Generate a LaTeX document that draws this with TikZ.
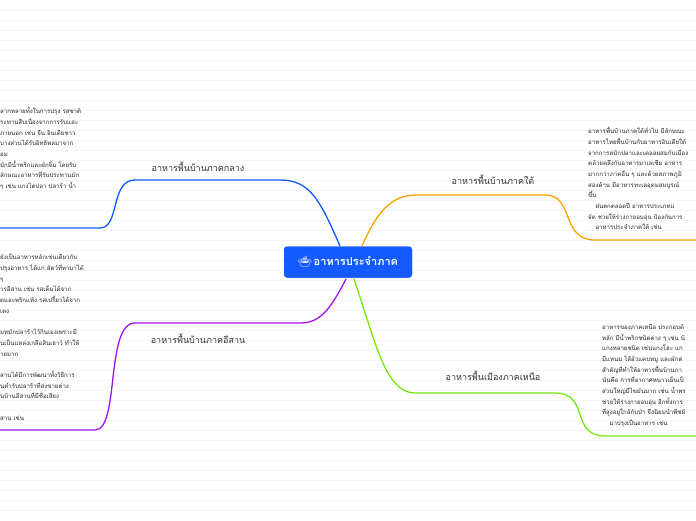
\documentclass[tikz,border=0pt]{standalone}
\usepackage{fontspec}
\setmainfont[Script=Thai]{Loma}
\newfontfamily\emojifont{Noto Emoji}
\usetikzlibrary{positioning}
\definecolor{mapblue}{RGB}{20,90,255}
\definecolor{mapviolet}{RGB}{160,20,240}
\definecolor{maporange}{RGB}{255,160,0}
\definecolor{mapgreen}{RGB}{120,230,20}
\tikzset{
  topic/.style={font=\fontsize{9}{11}\selectfont, text=black!80, inner sep=1pt},
  note/.style={font=\fontsize{6.1}{10.7}\selectfont, align=left, text=black!85, inner sep=0pt, anchor=north west},
  branch/.style={line width=1.3pt, line cap=round},
}
\begin{document}
\begin{tikzpicture}[x=1pt,y=-1pt]
  \useasboundingbox[fill=white] (0,0) rectangle (696,520);
  \clip (0,0) rectangle (696,520);
  % faint ruling
  \foreach \y in {10,20,...,510}
    \draw[black!4, line width=0.3pt] (0,\y) -- (696,\y);
  % centre
  \node[fill=mapblue, text=white, rounded corners=3pt, minimum width=128pt, minimum height=31pt,
        font=\fontsize{11}{13}\selectfont\bfseries] (root) at (348,262)
        {{\emojifont\char"1F372}\,อาหารประจำภาค};
  % branch ends
  \coordinate (cjoin) at (280,180);
  \coordinate (ijoin) at (300,323);
  \coordinate (sjoin) at (418,195);
  \coordinate (send) at (696,240);
  \coordinate (njoin) at (415,393);
  \coordinate (nend) at (696,436);
  % branches
  \draw[branch, mapblue] (340,246) .. controls (320,200) and (310,180) .. (cjoin) -- (135,180)
        .. controls (110,180) and (120,228) .. (100,228) -- (0,228);
  \draw[branch, mapviolet] (346,279) .. controls (330,310) and (320,323) .. (ijoin) -- (135,323)
        .. controls (105,323) and (120,430) .. (95,430) -- (0,430);
  \draw[branch, maporange] (362,246) .. controls (380,205) and (395,195) .. (sjoin) -- (545,195)
        .. controls (575,195) and (560,240) .. (595,240) -- (send);
  \draw[branch, mapgreen] (354,279) .. controls (375,340) and (385,393) .. (njoin) -- (555,393)
        .. controls (590,393) and (570,436) .. (605,436) -- (nend);
  \node[fill=mapblue, text=white, rounded corners=3pt, minimum width=128pt, minimum height=31pt,
        font=\fontsize{11}{13}\selectfont\bfseries] at (root) {{\emojifont\char"1F372}\,อาหารประจำภาค};
  % topics
  \node[topic, above=2pt] (central) at (198,175) {อาหารพื้นบ้านภาคกลาง};
  \node[topic, above=2pt] (isan) at (198,347) {อาหารพื้นบ้านภาคอีสาน};
  \node[topic, above=2pt] (south) at (493,188) {อาหารพื้นบ้านภาคใต้};
  \node[topic, above=2pt] (north) at (493,384) {อาหารพื้นเมืองภาคเหนือ};
  % notes
  \node[note] (centralnote) at (0,107) {ลากหลายทั้งในการปรุง รสชาติ\\
    ระทานสืบเนื่องจากการรับและ\\ ภายนอก เช่น จีน อินเดียชาว\\
    บางส่วนได้รับอิทธิพลมาจาก\\ อม\\ มักมีน้ำพริกและผักจิ้ม โดยรับ\\
    ลักษณะอาหารที่รับประทานมัก\\ ๆ เช่น แกงไตปลา ปลาร้า น้ำ};
  \node[note] (isannote) at (0,254) {ยังเป็นอาหารหลักเช่นเดียวกับ\\
    ปรุงอาหาร ได้แก่ สัตว์ที่หามาได้\\ ๆ\\ ารอีสาน เช่น รสเค็มได้จาก\\
    ดและพริกแห้ง รสเปรี้ยวได้จาก\\ เดง\\ \\ มหมักปลาร้าไว้กินเองเพราะมี\\
    ันเป็นแหล่งเกลือสินเธาว์ ทำให้\\ ายมาก\\ \\ สานได้มีการพัฒนาทั้งวิธีการ\\
    นตำรับปลาร้าที่ส่งขายต่าง\\ นบ้านอีสานที่มีชื่อเสียง\\ \\ สาน เช่น};
  \node[note] (southnote) at (588,127) {อาหารพื้นบ้านภาคใต้ทั่วไป มีลักษณะ\\
    อาหารไทยพื้นบ้านกับอาหารอินเดียใต้\\ จากการหมักปลาและเคลลผสมกับเมือง\\
    คล้ายคลึงกับอาหารมาเลเซีย อาหาร\\ มากกว่าภาคอื่น ๆ และด้วยสภาพภูมิ\\
    สองด้าน มีอาหารทะเลอุดมสมบูรณ์\\ ขึ้น\\
    \hspace*{1.2em}ฝนตกตลอดปี อาหารประเภทแ\\ จัด ช่วยให้ร่างกายอบอุ่น ป้องกันการ\\
    \hspace*{1.2em}อาหารประจำภาคใต้ เช่น};
  \node[note] (northnote) at (602,324) {อาหารของภาคเหนือ ประกอบด้\\
    หลัก มีน้ำพริกชนิดต่าง ๆ เช่น น้\\ แกงหลายชนิด เช่นแกงโฮะ แก\\
    มีแหนม ไส้อั่วแคบหมู และผักต่\\ สำคัญที่ทำให้อาหารพื้นบ้านภา\\
    นั่นคือ การที่อากาศหนาวเย็นเป็\\ ส่วนใหญ่มีไขมันมาก เช่น น้ำพร\\
    ช่วยให้ร่างกายอบอุ่น อีกทั้งการ\\ ที่สูงอยู่ใกล้กับป่า จึงนิยมนำพืชผั\\
    \hspace*{1.2em}มาปรุงเป็นอาหาร เช่น};
\end{tikzpicture}
\end{document}
